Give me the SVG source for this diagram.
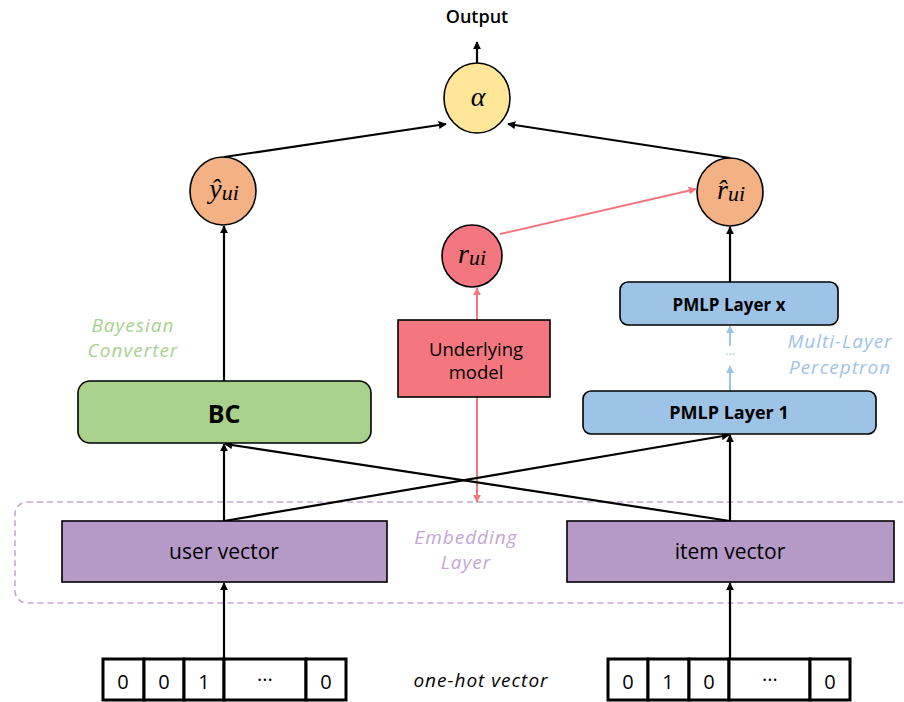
<svg xmlns="http://www.w3.org/2000/svg" width="904" height="702" viewBox="0 0 904 702">
<defs>
<marker id="ab" viewBox="0 0 10 10" refX="9" refY="5" markerWidth="8" markerHeight="8" markerUnits="userSpaceOnUse" orient="auto"><path d="M0,0 L10,5 L0,10 z" fill="#000"/></marker>
<marker id="ar" viewBox="0 0 10 10" refX="9" refY="5" markerWidth="8" markerHeight="8" markerUnits="userSpaceOnUse" orient="auto"><path d="M0,0 L10,5 L0,10 z" fill="#f4777f"/></marker>
<marker id="al" viewBox="0 0 10 10" refX="9" refY="5" markerWidth="8" markerHeight="8" markerUnits="userSpaceOnUse" orient="auto"><path d="M0,0 L10,5 L0,10 z" fill="#9dc3e6"/></marker>
</defs>
<style>
text{font-family:"Open Sans","Noto Sans","DejaVu Sans",sans-serif;text-anchor:middle;dominant-baseline:central;fill:#000}
.m{font-family:"Liberation Serif","DejaVu Serif",serif;font-style:italic;font-size:28px}
.s{stroke:#000;stroke-width:1.6}
.c{stroke:#000;stroke-width:2.2;fill:none}
.cr{stroke:#f4777f;stroke-width:2;fill:none}
.cl{stroke:#9dc3e6;stroke-width:2;fill:none}
.lab{font-style:italic;font-size:19px;letter-spacing:1px}
.cell{fill:#fff;stroke:#000;stroke-width:3}
.d{font-size:20px}
</style>
<rect x="15" y="502" width="920" height="101" rx="12" fill="none" stroke="#c3a6d6" stroke-width="1.6" stroke-dasharray="6,4"/>
<g id="connectors">
<line class="c" x1="477" y1="64" x2="477" y2="42" marker-end="url(#ab)"/>
<line class="c" x1="224" y1="157" x2="446" y2="124" marker-end="url(#ab)"/>
<line class="c" x1="730" y1="158" x2="508" y2="124" marker-end="url(#ab)"/>
<line class="c" x1="224" y1="381" x2="224" y2="226" marker-end="url(#ab)"/>
<line class="c" x1="730" y1="282" x2="730" y2="227" marker-end="url(#ab)"/>
<line class="cr" x1="500" y1="234" x2="696" y2="189" marker-end="url(#ar)"/>
<line class="cr" x1="477" y1="320" x2="477" y2="288" marker-end="url(#ar)"/>
<line class="cr" x1="477" y1="397" x2="477" y2="502" marker-end="url(#ar)"/>
<line class="cl" x1="730" y1="391" x2="730" y2="366" marker-end="url(#al)"/>
<line class="cl" x1="730" y1="346" x2="730" y2="326" marker-end="url(#al)"/>
<line class="c" x1="224" y1="521" x2="224" y2="444" marker-end="url(#ab)"/>
<line class="c" x1="224" y1="521" x2="729" y2="435" marker-end="url(#ab)"/>
<line class="c" x1="730" y1="521" x2="225" y2="444" marker-end="url(#ab)"/>
<line class="c" x1="730" y1="521" x2="730" y2="435" marker-end="url(#ab)"/>
<line class="c" x1="224" y1="659" x2="224" y2="583" marker-end="url(#ab)"/>
<line class="c" x1="730" y1="659" x2="730" y2="583" marker-end="url(#ab)"/>
</g>
<text x="477" y="16" style="font-size:18px;font-weight:600">Output</text>
<g id="alpha"><ellipse cx="477" cy="98" rx="33" ry="35" fill="#ffe699" class="s"/><text class="m" x="478" y="96">α</text></g>
<g id="yhat"><ellipse cx="223" cy="191" rx="33" ry="34" fill="#f4b183" class="s"/><text class="m" x="224" y="188">ŷ<tspan font-size="22" dy="4">ui</tspan></text></g>
<g id="rhat"><ellipse cx="730" cy="192" rx="33" ry="34" fill="#f4b183" class="s"/><text class="m" x="731" y="189">r̂<tspan font-size="22" dy="4">ui</tspan></text></g>
<g id="rui"><ellipse cx="472" cy="256" rx="30" ry="31" fill="#f4777f" class="s"/><text class="m" x="472" y="253">r<tspan font-size="22" dy="4">ui</tspan></text></g>
<g id="underlying"><rect x="398" y="320" width="152" height="77" fill="#f4777f" class="s"/><text x="476" y="348" style="font-size:18.5px">Underlying</text><text x="476" y="371" style="font-size:18.5px">model</text></g>
<g id="bc"><rect x="78" y="381" width="293" height="62" rx="12" fill="#a9d18e" class="s"/><text x="224" y="413" style="font-size:25px;font-weight:bold">BC</text></g>
<g id="pmlpx"><rect x="620" y="282" width="218" height="43" rx="8" fill="#9dc3e6" class="s"/><text x="729" y="304" style="font-size:17px;font-weight:bold">PMLP Layer x</text></g>
<g id="pmlp1"><rect x="583" y="391" width="293" height="43" rx="8" fill="#9dc3e6" class="s"/><text x="729" y="412" style="font-size:18px;font-weight:bold">PMLP Layer 1</text></g>
<text x="730" y="354" style="font-size:12px;fill:#9dc3e6">···</text>
<text class="lab" x="840" y="341" style="fill:#9dc3e6">Multi-Layer</text>
<text class="lab" x="840" y="367" style="fill:#9dc3e6">Perceptron</text>
<text class="lab" x="133" y="325" style="fill:#a9d18e">Bayesian</text>
<text class="lab" x="133" y="350" style="fill:#a9d18e">Converter</text>
<g id="user"><rect x="62" y="521" width="325" height="61" fill="#b59ac8" class="s"/><text x="224" y="551" style="font-size:21px">user vector</text></g>
<g id="item"><rect x="567" y="521" width="327" height="61" fill="#b59ac8" class="s"/><text x="730" y="551" style="font-size:21px">item vector</text></g>
<text class="lab" x="466" y="537" style="fill:#c3a6d6">Embedding</text>
<text class="lab" x="466" y="562" style="fill:#c3a6d6">Layer</text>
<g id="onehot-user">
<rect class="cell" x="103" y="659" width="41" height="41"/><rect class="cell" x="144" y="659" width="40" height="41"/><rect class="cell" x="184" y="659" width="40" height="41"/><rect class="cell" x="224" y="659" width="82" height="41"/><rect class="cell" x="306" y="659" width="40" height="41"/>
<text class="d" x="123" y="681">0</text><text class="d" x="164" y="681">0</text><text class="d" x="204" y="681">1</text><text class="d" x="265" y="679">···</text><text class="d" x="326" y="681">0</text>
</g>
<g id="onehot-item">
<rect class="cell" x="608" y="659" width="40" height="41"/><rect class="cell" x="648" y="659" width="41" height="41"/><rect class="cell" x="689" y="659" width="40" height="41"/><rect class="cell" x="729" y="659" width="81" height="41"/><rect class="cell" x="810" y="659" width="40" height="41"/>
<text class="d" x="628" y="681">0</text><text class="d" x="668" y="681">1</text><text class="d" x="709" y="681">0</text><text class="d" x="770" y="679">···</text><text class="d" x="830" y="681">0</text>
</g>
<text class="lab" x="481" y="680">one-hot vector</text>
</svg>
